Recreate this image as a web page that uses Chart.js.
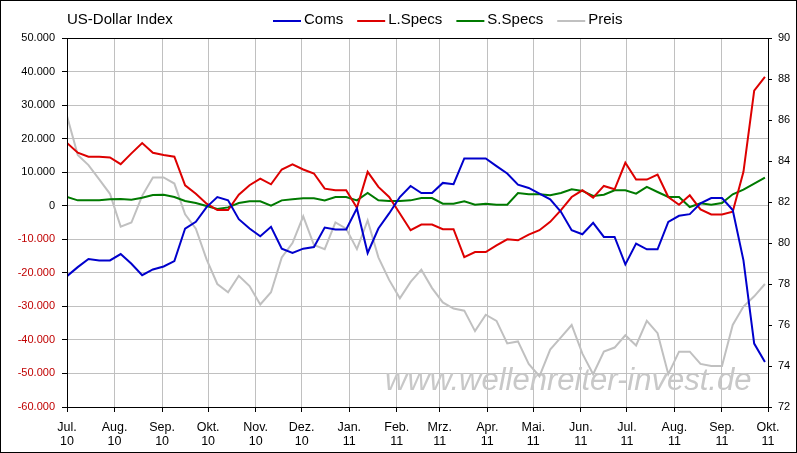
<!DOCTYPE html>
<html>
<head>
<meta charset="utf-8">
<script src="https://cdn.jsdelivr.net/npm/chart.js@4/dist/chart.umd.min.js"></script>
<style>
  html, body { margin: 0; padding: 0; background: #fff; }
  canvas { display: block; }
</style>
</head>
<body>
<canvas id="cot_chart" width="797" height="453"></canvas>
<script>
// weekly report dates
const dates = [
  '2010-07-01', '2010-07-08', '2010-07-15', '2010-07-22', '2010-07-29', '2010-08-05', '2010-08-12', '2010-08-19',
  '2010-08-26', '2010-09-02', '2010-09-09', '2010-09-16', '2010-09-23', '2010-09-30', '2010-10-07', '2010-10-14',
  '2010-10-21', '2010-10-28', '2010-11-04', '2010-11-11', '2010-11-18', '2010-11-25', '2010-12-02', '2010-12-09',
  '2010-12-16', '2010-12-23', '2010-12-30', '2011-01-06', '2011-01-13', '2011-01-20', '2011-01-27', '2011-02-03',
  '2011-02-10', '2011-02-17', '2011-02-24', '2011-03-03', '2011-03-10', '2011-03-17', '2011-03-24', '2011-03-31',
  '2011-04-07', '2011-04-14', '2011-04-21', '2011-04-28', '2011-05-05', '2011-05-12', '2011-05-19', '2011-05-26',
  '2011-06-02', '2011-06-09', '2011-06-16', '2011-06-23', '2011-06-30', '2011-07-07', '2011-07-14', '2011-07-21',
  '2011-07-28', '2011-08-04', '2011-08-11', '2011-08-18', '2011-08-25', '2011-09-01', '2011-09-08', '2011-09-15',
  '2011-09-22', '2011-09-29'
];

const coms = [
  -21000, -18300, -15900, -16300, -16300, -14400, -17300, -20700, -19000, -18100, -16500, -6800, -4800, -400, 2600, 1600,
  -4000, -6800, -9100, -6300, -12800, -14100, -12800, -12300, -6500, -7100, -7100, -800, -14100, -6800, -2300, 2600,
  5900, 3800, 3800, 6800, 6400, 14100, 14100, 14100, 11800, 9600, 6300, 5300, 3600, 1900, -1800, -7300,
  -8500, -5100, -9300, -9300, -17500, -11300, -13000, -13000, -4800, -3000, -2500, 700, 2300, 2300, -1300, -16300,
  -41100, -46600
];

const longSpecs = [
  18700, 15800, 14600, 14600, 14400, 12400, 15600, 18700, 15800, 15100, 14600, 6100, 3600, 600, -1300, -1300,
  3300, 6100, 8100, 6400, 10800, 12300, 10800, 9600, 5100, 4600, 4600, -600, 10100, 5600, 2600, -2300,
  -7300, -5600, -5600, -7000, -7000, -15300, -13800, -13800, -11800, -10000, -10300, -8600, -7300, -4800, -1300, 2600,
  4600, 2400, 5900, 4900, 12800, 7800, 7800, 9300, 2600, 300, 3100, -1100, -2600, -2600, -1800, 10100,
  34300, 38400
];

const shortSpecs = [
  2600, 1600, 1600, 1600, 1900, 2000, 1800, 2400, 3200, 3300, 2600, 1400, 800, -100, -1000, -500,
  800, 1300, 1300, 0, 1600, 1900, 2200, 2200, 1600, 2600, 2600, 1600, 3800, 1600, 1400, 1400,
  1600, 2300, 2300, 600, 600, 1300, 300, 600, 300, 300, 3800, 3400, 3400, 3100, 3800, 4900,
  4400, 2900, 3300, 4600, 4600, 3600, 5600, 4100, 2600, 2600, -400, 700, 300, 800, 3400, 4800,
  6600, 8400
];

const preis = [
  86.2, 84.3, 83.8, 83.1, 82.4, 80.8, 81.0, 82.3, 83.2, 83.2, 82.9, 81.4, 80.7, 79.2, 78.0, 77.6,
  78.4, 77.9, 77.0, 77.6, 79.3, 80.0, 81.3, 79.9, 79.7, 81.0, 80.7, 79.7, 81.1, 79.3, 78.2, 77.3,
  78.1, 78.7, 77.8, 77.1, 76.8, 76.7, 75.7, 76.5, 76.2, 75.1, 75.2, 74.1, 73.5, 74.8, 75.4, 76.0,
  74.6, 73.6, 74.7, 74.9, 75.5, 75.0, 76.2, 75.6, 73.6, 74.7, 74.7, 74.1, 74.0, 74.0, 76.0, 76.9,
  77.4, 78.0
];

// month ticks on the time axis
const monthStarts = [
  '2010-07-01', '2010-08-01', '2010-09-01', '2010-10-01', '2010-11-01', '2010-12-01', '2011-01-01', '2011-02-01',
  '2011-03-01', '2011-04-01', '2011-05-01', '2011-06-01', '2011-07-01', '2011-08-01', '2011-09-01', '2011-10-01'
];
const monthNames = ['Jul.', 'Aug.', 'Sep.', 'Okt.', 'Nov.', 'Dez.', 'Jan.', 'Feb.', 'Mrz.', 'Apr.', 'Mai.', 'Jun.', 'Jul.', 'Aug.', 'Sep.', 'Okt.'];
const monthYears = ['10', '10', '10', '10', '10', '10', '11', '11', '11', '11', '11', '11', '11', '11', '11', '11'];

const seriesLabels = ['Coms', 'L.Specs', 'S.Specs', 'Preis'];
const seriesColors = ['#0000cc', '#dd0000', '#007a00', '#c0c0c0'];

const FONT = '"Liberation Sans", Arial, sans-serif';
const DAY = 24 * 3600 * 1000;
const t0 = Date.parse(monthStarts[0]);
const dayOf = (d) => Math.round((Date.parse(d) - t0) / DAY);
const monthTicks = monthStarts.map(dayOf);

const fmtThousands = function(v) {
  const s = Math.abs(v).toString().replace(/\B(?=(\d{3})+(?!\d))/g, '.');
  return (v < 0 ? '-' : '') + s;
};

const toPoints = (values) => values.map((v, i) => ({ x: dayOf(dates[i]), y: v }));

const decorations = {
  id: 'decorations',
  beforeDatasetsDraw(chart) {
    const ctx = chart.ctx;
    ctx.save();
    ctx.font = 'italic 31px ' + FONT;
    ctx.fillStyle = '#c8c8c8';
    ctx.textBaseline = 'alphabetic';
    ctx.fillText('www.wellenreiter-invest.de', 385, 390);
    ctx.restore();
  },
  afterDraw(chart) {
    const ctx = chart.ctx;
    const a = chart.chartArea;
    ctx.save();
    // plot frame
    ctx.strokeStyle = '#000';
    ctx.lineWidth = 1;
    ctx.strokeRect(Math.round(a.left) + 0.5, Math.round(a.top) + 0.5, Math.round(a.right - a.left), Math.round(a.bottom - a.top));
    // outer frame
    ctx.strokeRect(0.5, 0.5, chart.width - 1, chart.height - 1);

    // title
    ctx.font = '15px ' + FONT;
    ctx.fillStyle = '#000';
    ctx.textBaseline = 'middle';
    ctx.fillText('US-Dollar Index', 67, 20);

    // legend
    let x = 273;
    seriesLabels.forEach(function(label, i) {
      ctx.strokeStyle = seriesColors[i];
      ctx.lineWidth = 2;
      ctx.beginPath();
      ctx.moveTo(x, 21);
      ctx.lineTo(x + 28, 21);
      ctx.stroke();
      ctx.fillStyle = '#000';
      ctx.fillText(label, x + 31, 20);
      x += 31 + ctx.measureText(label).width + 14;
    });
    ctx.restore();
  }
};

const seriesValues = [coms, longSpecs, shortSpecs, preis];

const chart = new Chart('cot_chart', {
  type: 'line',
  data: {
    datasets: seriesValues.map(function(values, i) {
      return {
        label: seriesLabels[i],
        data: toPoints(values),
        borderColor: seriesColors[i],
        backgroundColor: seriesColors[i],
        borderWidth: 2,
        pointRadius: 0,
        tension: 0,
        yAxisID: i === 3 ? 'y1' : 'y'
      };
    })
  },
  options: {
    responsive: false,
    animation: false,
    layout: { padding: { top: 38, left: 0, right: 0, bottom: 0 } },
    plugins: {
      legend: { display: false },
      tooltip: { enabled: false }
    },
    scales: {
      x: {
        type: 'linear',
        min: 0,
        max: monthTicks[monthTicks.length - 1],
        afterBuildTicks: (scale) => { scale.ticks = monthTicks.map((v) => ({ value: v })); },
        afterFit: (scale) => { scale.height = 46; },
        grid: { color: '#c0c0c0', tickColor: '#000', tickLength: 5 },
        border: { color: '#000', width: 1 },
        ticks: {
          autoSkip: false,
          maxRotation: 0,
          padding: 8,
          color: '#000',
          font: { family: FONT, size: 12.5, lineHeight: 1.15 },
          callback: (value, index) => [monthNames[index], monthYears[index]]
        }
      },
      y: {
        position: 'left',
        min: -60000,
        max: 50000,
        afterFit: (scale) => { scale.width = 67; },
        grid: { color: '#c0c0c0', tickColor: '#000', tickLength: 5 },
        border: { color: '#000', width: 1 },
        ticks: {
          stepSize: 10000,
          padding: 7,
          font: { family: FONT, size: 11 },
          color: (c) => (c.tick && c.tick.value < 0 ? '#c00000' : '#000'),
          callback: (value) => fmtThousands(value)
        }
      },
      y1: {
        position: 'right',
        min: 72,
        max: 90,
        afterFit: (scale) => { scale.width = 29; },
        grid: { drawOnChartArea: false, tickColor: '#000', tickLength: 4 },
        border: { color: '#000', width: 1 },
        ticks: {
          stepSize: 2,
          padding: 6,
          color: '#000',
          font: { family: FONT, size: 11 }
        }
      }
    }
  },
  plugins: [decorations]
});
</script>
</body>
</html>
